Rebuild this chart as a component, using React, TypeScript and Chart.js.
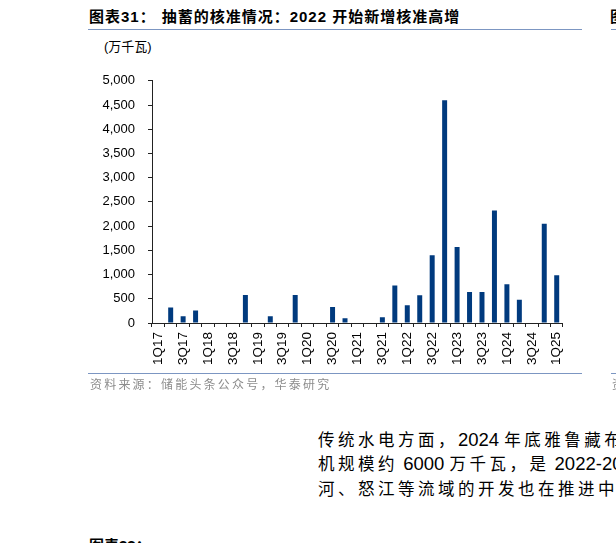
import React, { useEffect, useRef } from "react";
import { Chart, registerables } from "chart.js";

Chart.register(...registerables);

const quarters = [
  "1Q17", "2Q17", "3Q17", "4Q17",
  "1Q18", "2Q18", "3Q18", "4Q18",
  "1Q19", "2Q19", "3Q19", "4Q19",
  "1Q20", "2Q20", "3Q20", "4Q20",
  "1Q21", "2Q21", "3Q21", "4Q21",
  "1Q22", "2Q22", "3Q22", "4Q22",
  "1Q23", "2Q23", "3Q23", "4Q23",
  "1Q24", "2Q24", "3Q24", "4Q24",
  "1Q25",
];

const approvedCapacity = [
  0, 320, 140, 260,
  0, 0, 0, 580,
  0, 140, 0, 580,
  0, 0, 330, 100,
  0, 0, 120, 775,
  365, 575, 1400, 4600,
  1570, 640, 640, 2320,
  800, 480, 0, 2050,
  985,
];

const yTicks = [0, 500, 1000, 1500, 2000, 2500, 3000, 3500, 4000, 4500, 5000];

const titleText = "图表31：";
const titleRest = "抽蓄的核准情况：2022 开始新增核准高增";
const unitText = "(万千瓦)";
const sourceText = "资料来源：储能头条公众号，华泰研究";
const bodyLines = [
  "传统水电方面，2024 年底雅鲁藏布",
  "机规模约 6000 万千瓦，是 2022-2024",
  "河、怒江等流域的开发也在推进中",
];

const LATIN = '"Liberation Sans", Arial, sans-serif';
const CJK = '"Liberation Sans", Arial, "Noto Sans CJK SC", sans-serif';

function splitRuns(t: string) {
  const runs: { text: string; latin: boolean }[] = [];
  for (const ch of t) {
    const latin = /[\x00-\x7F]/.test(ch);
    const last = runs[runs.length - 1];
    if (last && last.latin === latin) last.text += ch;
    else runs.push({ text: ch, latin });
  }
  return runs;
}

function BarChart() {
  const ref = useRef<HTMLCanvasElement | null>(null);
  useEffect(() => {
    if (!ref.current) return;
    const chart = new Chart(ref.current, {
      type: "bar",
      data: {
        labels: quarters,
        datasets: [
          {
            data: approvedCapacity,
            backgroundColor: "#003A7E",
            borderWidth: 0,
            categoryPercentage: 1,
            barPercentage: 0.4,
          },
        ],
      },
      options: {
        animation: false,
        responsive: true,
        maintainAspectRatio: false,
        devicePixelRatio: 1,
        layout: { padding: { top: 12, right: 6, left: 0, bottom: 0 } },
        plugins: { legend: { display: false }, tooltip: { enabled: false }, title: { display: false } },
        scales: {
          x: {
            type: "category",
            grid: {
              display: true,
              drawOnChartArea: false,
              drawTicks: true,
              tickLength: 4,
              color: "#222",
              offset: true,
            },
            border: { display: true, color: "#222", width: 1 },
            ticks: {
              autoSkip: false,
              maxRotation: 90,
              minRotation: 90,
              padding: 5,
              color: "#000",
              font: { family: LATIN, size: 13.5 },
              callback: (_v: any, i: number) => (i % 2 === 0 ? quarters[i] : ""),
            },
            afterFit: (s: any) => {
              s.height = 57;
            },
          },
          y: {
            min: 0,
            max: 5000,
            afterBuildTicks: (s: any) => {
              s.ticks = yTicks.map((v) => ({ value: v }));
            },
            grid: {
              display: true,
              drawOnChartArea: false,
              drawTicks: true,
              tickLength: 4,
              color: "#222",
            },
            border: { display: true, color: "#222", width: 1 },
            ticks: {
              padding: 13,
              color: "#000",
              font: { family: LATIN, size: 13 },
              callback: (v: any) => Number(v).toLocaleString("en-US"),
            },
            afterFit: (s: any) => {
              s.width = 64;
            },
          },
        },
      },
    });
    return () => chart.destroy();
  }, []);
  return (
    <div style={{ position: "absolute", left: 88, top: 60, width: 490, height: 320 }}>
      <canvas ref={ref} />
    </div>
  );
}

function BodyLine({ text, top }: { text: string; top: number }) {
  return (
    <div
      style={{
        position: "absolute",
        left: 318,
        top,
        lineHeight: "22px",
        color: "#000",
        whiteSpace: "nowrap",
      }}
    >
      {splitRuns(text).map((r, i) =>
        r.latin ? (
          <span key={i} style={{ fontFamily: LATIN, fontSize: 18.5 }}>
            {r.text}
          </span>
        ) : (
          <span key={i} style={{ fontFamily: '"Noto Sans CJK SC", sans-serif', fontSize: 16.5, letterSpacing: 3.5 }}>
            {r.text}
          </span>
        )
      )}
    </div>
  );
}

export default function App() {
  const lineColor = "#7C96C2";
  return (
    <div
      style={{
        position: "fixed",
        left: 0,
        top: 0,
        width: 616,
        height: 543,
        overflow: "hidden",
        background: "#fff",
        fontFamily: CJK,
      }}
    >
      <div
        style={{
          position: "absolute",
          left: 89,
          top: 9,
          fontSize: 15,
          lineHeight: "16px",
          fontWeight: "bold",
          whiteSpace: "nowrap",
          color: "#000",
          letterSpacing: 1,
        }}
      >
        {titleText}
        <span style={{ marginLeft: 6 }}>{titleRest}</span>
      </div>
      <div style={{ position: "absolute", left: 88, top: 29, width: 494, height: 1, background: lineColor }} />
      <div
        style={{
          position: "absolute",
          left: 610,
          top: 9,
          fontSize: 15,
          lineHeight: "16px",
          fontWeight: "bold",
          whiteSpace: "nowrap",
        }}
      >
        图表32：
      </div>
      <div style={{ position: "absolute", left: 611, top: 29, width: 100, height: 1, background: lineColor }} />
      <div
        style={{
          position: "absolute",
          left: 104,
          top: 39,
          fontSize: 13,
          lineHeight: "16px",
          color: "#000",
          whiteSpace: "nowrap",
        }}
      >
        {unitText}
      </div>
      <BarChart />
      <div style={{ position: "absolute", left: 88, top: 373, width: 494, height: 1, background: lineColor }} />
      <div style={{ position: "absolute", left: 611, top: 373, width: 100, height: 1, background: lineColor }} />
      <div
        style={{
          position: "absolute",
          left: 90,
          top: 377,
          fontSize: 12,
          lineHeight: "16px",
          letterSpacing: 2.2,
          color: "#8C8C8C",
          whiteSpace: "nowrap",
        }}
      >
        {sourceText}
      </div>
      <div
        style={{
          position: "absolute",
          left: 612,
          top: 377,
          fontSize: 12,
          lineHeight: "16px",
          color: "#8C8C8C",
          whiteSpace: "nowrap",
        }}
      >
        资料来源
      </div>
      {bodyLines.map((t, i) => (
        <BodyLine key={i} text={t} top={427.5 + i * 24.5} />
      ))}
      <div
        style={{
          position: "absolute",
          left: 89,
          top: 538,
          fontSize: 15,
          lineHeight: "16px",
          fontWeight: "bold",
          whiteSpace: "nowrap",
        }}
      >
        图表33：
      </div>
    </div>
  );
}
